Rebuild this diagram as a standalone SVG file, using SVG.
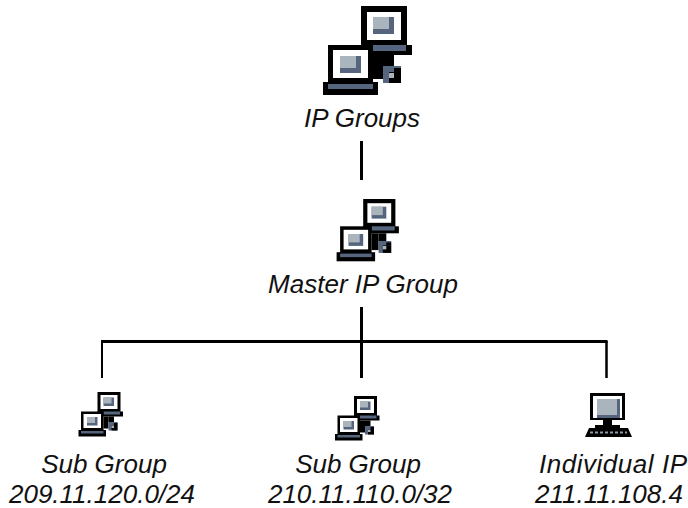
<svg xmlns="http://www.w3.org/2000/svg" width="688" height="508" viewBox="0 0 688 508">
<style>
text{font-family:"Liberation Sans",Arial,sans-serif;font-style:italic;font-size:26px;fill:#111;text-anchor:middle}
.k{fill:#000}.w{fill:#fff}.b{fill:#56657e}.l{fill:#aab4bd}
.c{stroke:#000;fill:none}
</style>
<defs>
<filter id="s" x="-5%" y="-5%" width="110%" height="110%"><feGaussianBlur stdDeviation="0.6"/></filter>
<g id="group">
<rect class="k" x="361" y="6" width="46" height="40"/>
<rect class="w" x="367" y="12" width="34" height="28"/>
<rect class="b" x="373" y="17" width="21" height="17"/>
<rect class="l" x="373" y="17" width="16" height="12"/>
<rect class="k" x="361" y="45" width="51" height="10"/>
<rect class="b" x="373" y="45" width="33" height="6"/>
<rect class="k" x="373" y="55" width="10" height="24"/>
<rect class="k" x="383" y="55" width="11" height="11"/>
<rect class="k" x="328" y="45" width="45" height="38"/>
<rect class="w" x="333" y="50" width="35" height="28"/>
<rect class="b" x="340" y="56" width="21" height="17"/>
<rect class="l" x="340" y="56" width="16" height="12"/>
<rect class="k" x="323" y="82" width="55" height="13"/>
<rect class="b" x="328" y="84" width="45" height="5"/>
<rect class="b" x="383" y="66" width="18" height="17"/>
<rect class="k" x="389" y="72" width="12" height="11"/>
<rect class="k" x="394" y="68" width="7" height="4"/>
<rect class="l" x="389" y="73" width="5" height="5"/>
</g>
</defs>
<rect width="688" height="508" fill="#fff"/>
<g id="connectors">
<path class="c" stroke-width="3" d="M361.500 141V180M361.500 307V378M103 341.500H607.500"/>
<path class="c" stroke-width="2" d="M102 340V378"/>
<path class="c" stroke-width="2.500" d="M606.500 341V378"/>
</g>
<g id="ip-groups">
<use href="#group" filter="url(#s)"/>
<text x="362" y="127">IP Groups</text>
</g>
<g id="master-ip-group">
<use href="#group" transform="translate(110.500 194.800) scale(0.7)" filter="url(#s)"/>
<text x="363" y="293">Master IP Group</text>
</g>
<g id="sub-group-1">
<use href="#group" transform="translate(-83 389) scale(0.5)" filter="url(#s)"/>
<text x="104" y="473">Sub Group</text>
<text x="102" y="503">209.11.120.0/24</text>
</g>
<g id="sub-group-2">
<use href="#group" transform="translate(173.500 393) scale(0.5)" filter="url(#s)"/>
<text x="358" y="473">Sub Group</text>
<text x="360" y="503">210.11.110.0/32</text>
</g>
<g id="individual-ip">
<g filter="url(#s)">
<rect class="k" x="590" y="393" width="35" height="27"/>
<rect class="w" x="593" y="396" width="29" height="22"/>
<rect class="b" x="597" y="399" width="23" height="19"/>
<rect class="l" x="597" y="399" width="20" height="16"/>
<rect class="k" x="603" y="420" width="9" height="6"/>
<rect class="k" x="595" y="425" width="25" height="3"/>
<path class="k" d="M589 428H628L632 437H585Z"/>
<path d="M590 432.500H627" stroke="#8d98a8" stroke-width="2" stroke-dasharray="3 2"/>
</g>
<text x="613" y="473" textLength="148" lengthAdjust="spacing">Individual IP</text>
<text x="609" y="503">211.11.108.4</text>
</g>
</svg>
